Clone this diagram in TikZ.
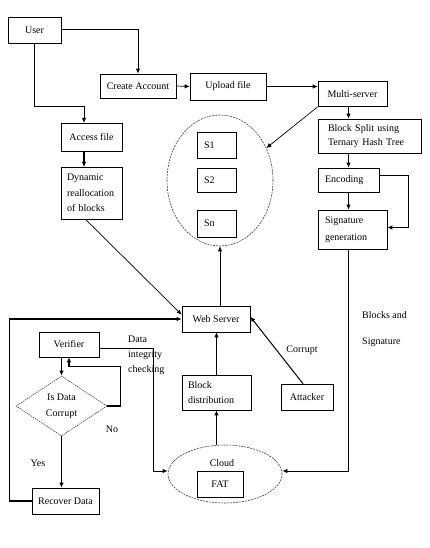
\documentclass[tikz,border=0pt]{standalone}
\usepackage{fontspec}
\setmainfont{Liberation Serif}
\usetikzlibrary{arrows.meta,shapes.geometric,calc}
\begin{document}
\begin{tikzpicture}[x=1pt,y=-1pt,
 font=\fontsize{10}{12}\selectfont,
 box/.style={draw, line width=0.6pt, inner sep=0pt, align=center},
 lbox/.style={draw, line width=0.6pt, inner ysep=0pt, align=left},
 arr/.style={line width=0.7pt, -{Latex[length=5pt,width=4.5pt]}},
 marr/.style={line width=1pt, -{Latex[length=5pt,width=4.5pt]}},
 tarr/.style={line width=1.3pt, -{Latex[length=5pt,width=4.5pt]}},
 dell/.style={draw=black!75, ellipse, dash pattern=on 2pt off 1pt, line width=0.6pt, inner sep=0pt},
 lbl/.style={inner sep=0pt}
]
\useasboundingbox (0,0) rectangle (430,548);
% top row
\node[box, minimum width=53pt, minimum height=26pt] (user) at (34.5,30) {User};
\node[box, minimum width=76pt, minimum height=24pt] (create) at (138,86) {Create Account};
\node[box, minimum width=76pt, minimum height=27pt] (upload) at (228,86.5) {Upload file};
\node[box, minimum width=69pt, minimum height=25pt] (ms) at (352.5,94) {Multi-server};
% right column
\node[lbox, minimum width=103pt, minimum height=34pt, inner xsep=10pt, text width=83pt, font=\fontsize{10}{14}\selectfont] (bs) at (369.5,136) {Block Split using\\Ternary Hash Tree};
\node[lbox, minimum width=61pt, minimum height=24pt, inner xsep=7pt, text width=47pt] (enc) at (348.5,180) {Encoding};
\node[lbox, minimum width=69pt, minimum height=39pt, inner xsep=7pt, text width=55pt, font=\fontsize{10}{17}\selectfont] (sig) at (352.5,229.5) {Signature\\generation};
% left column
\node[box, minimum width=61pt, minimum height=28pt] (access) at (91.5,137) {Access file};
\node[lbox, minimum width=61pt, minimum height=52pt, inner xsep=6pt, text width=49pt, font=\fontsize{10}{15.5}\selectfont] (dyn) at (91.5,193) {Dynamic\\reallocation\\of blocks};
% servers ellipse
\node[dell, minimum width=106pt, minimum height=131pt] (sell) at (220,180.5) {};
\node[lbox, minimum width=39pt, minimum height=26pt, inner xsep=7pt, text width=25pt] (s1) at (216.5,145) {S1};
\node[lbox, minimum width=39pt, minimum height=24pt, inner xsep=7pt, text width=25pt] (s2) at (216.5,180) {S2};
\node[lbox, minimum width=39pt, minimum height=27pt, inner xsep=7pt, text width=25pt] (sn) at (216.5,223.5) {Sn};
% middle
\node[box, minimum width=68pt, minimum height=26pt] (ws) at (216,319) {Web Server};
\node[lbox, minimum width=69pt, minimum height=35pt, inner xsep=6pt, text width=57pt, font=\fontsize{10}{15}\selectfont] (bd) at (216.5,392.5) {Block\\distribution};
\node[box, minimum width=52pt, minimum height=26pt] (att) at (307,397) {Attacker};
\node[dell, minimum width=114pt, minimum height=58pt] (cloud) at (225,474) {};
\node[lbl] (cloudlbl) at (222,463) {Cloud};
\node[box, minimum width=46pt, minimum height=26pt] (fat) at (220,484) {FAT};
% verifier side
\node[box, minimum width=60pt, minimum height=25pt] (ver) at (69,344.5) {Verifier};
\node[draw=black!70, diamond, minimum width=91pt, minimum height=60pt, inner sep=0pt, align=center, line width=0.6pt, dash pattern=on 1.5pt off 0.8pt, font=\fontsize{10}{16}\selectfont] (dia) at (61.5,406) {Is Data\\Corrupt};
\node[box, minimum width=67pt, minimum height=26pt] (rec) at (65.5,501) {Recover Data};
% labels
\node[lbl] (no) at (112,429) {No};
\node[lbl] (yes) at (38,463) {Yes};
\node[lbl, anchor=north west, align=left, font=\fontsize{10}{15}\selectfont] (dic) at (128,336) {Data\\integrity\\checking};
\node[lbl] (corr) at (302,350) {Corrupt};
\node[lbl, anchor=west] (ba) at (362,315) {Blocks and};
\node[lbl, anchor=west] (bsig) at (362,342) {Signature};
% connectors
\draw[marr] (user.east) -| (create.north);
\draw[marr] (user.south) |- (84,107) -- (84,123);
\draw[tarr] (84,151) -- (84,167);
\draw[arr] (create.east) -- (upload.west);
\draw[arr] (upload.east) -- (ms.west |- upload.east);
\draw[arr] (ms.south west) -- (sell.35);
\draw[tarr] (ms.south -| enc.north) -- (bs.north -| enc.north);
\draw[tarr] (bs.south -| enc.north) -- (enc.north);
\draw[tarr] (enc.south) -- (sig.north -| enc.south);
\draw[marr] ([yshift=5pt]enc.east) -- ++(29,0) |- ([yshift=2pt]sig.east);
\draw[marr] (sig.south -| enc.south) |- ([yshift=3pt]cloud.east);
\draw[arr] ([xshift=-6pt]dyn.south) -- ([yshift=-9pt]ws.north west);
\draw[arr] (ws.north -| sell.south) -- (sell.south);
\draw[tarr] (bd.north) -- (ws.south -| bd.north);
\draw[tarr] (bd.south |- cloud.north) -- (bd.south);
\draw[marr] (att.north) ++(-4,0) -- ([yshift=-11pt]ws.north east);
\draw[tarr] (rec.west) -- ++(-22,0) |- (ws.west);
\draw[tarr] (ver.south -| dia.north) -- (dia.north);
\draw[tarr] (dia.east) -- ++(13,0) |- ([yshift=-9pt]ver.south) -- (ver.south);
\draw[tarr] (dia.south) -- (rec.north -| dia.south);
\draw[marr] ([yshift=-4pt]ver.east) -- ++(54,0) |- ([yshift=3pt]cloud.west);
\end{tikzpicture}
\end{document}
